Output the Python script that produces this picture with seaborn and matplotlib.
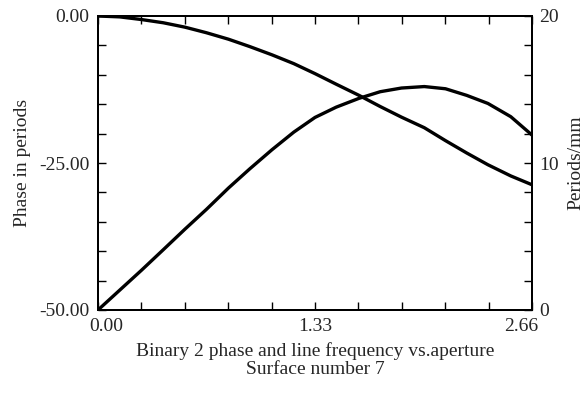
import numpy as np
import pandas as pd
import matplotlib
matplotlib.use('Agg')
import matplotlib.pyplot as plt
import matplotlib.transforms as mtrans
import seaborn as sns

# aperture (mm) at which the curves were read
aperture = [0.0, 0.133, 0.266, 0.4, 0.533, 0.665, 0.8, 0.93, 1.066, 1.2, 1.33,
            1.46, 1.6, 1.73, 1.86, 2.0, 2.13, 2.26, 2.39, 2.53, 2.66]
# phase in periods (left axis)
phase = [0.0, -0.15, -0.6, -1.15, -1.9, -2.85, -3.95, -5.2, -6.6, -8.1, -9.8,
         -11.6, -13.5, -15.4, -17.2, -19.0, -21.2, -23.3, -25.3, -27.2, -28.7]
# line frequency in periods/mm (right axis)
freq = [0.0, 1.35, 2.7, 4.1, 5.5, 6.85, 8.3, 9.6, 10.9, 12.1, 13.1,
        13.8, 14.4, 14.85, 15.1, 15.2, 15.05, 14.6, 14.05, 13.15, 11.9]

x_ticks = [0.0, 1.33, 2.66]
x_labels = ['0.00', '1.33', '2.66']
left_ticks = [-50, -25, 0]
left_labels = ['-50.00', '-25.00', '0.00']
right_ticks = [0, 10, 20]
right_labels = ['0', '10', '20']

df = pd.DataFrame({'aperture': aperture, 'phase': phase, 'freq': freq})

sns.set_style('white')
plt.rcParams['font.family'] = ['Liberation Serif', 'DejaVu Serif']
plt.rcParams['font.size'] = 14

fig = plt.figure(figsize=(5.84, 3.95), dpi=100)
ax = fig.add_axes([98 / 584, 1 - 310 / 395, 434 / 584, 294 / 395])
ax2 = ax.twinx()

sns.lineplot(data=df, x='aperture', y='phase', ax=ax, color='black', linewidth=2.4)
sns.lineplot(data=df, x='aperture', y='freq', ax=ax2, color='black', linewidth=2.4)

ax.set_xlim(0, 2.66)
ax.set_ylim(-50, 0)
ax2.set_ylim(0, 20)

ax.set_xticks(x_ticks)
ax.set_xticklabels(x_labels)
ax.set_xticks(np.arange(0, 2.67, 0.266), minor=True)
ax.set_yticks(left_ticks)
ax.set_yticklabels(left_labels)
ax.set_yticks(np.arange(-50, 1, 5), minor=True)
ax2.set_yticks(right_ticks)
ax2.set_yticklabels(right_labels)
ax2.set_yticks(np.arange(0, 21, 2), minor=True)

ax.tick_params(which='both', direction='in', length=6, width=1, color='black',
               top=True, bottom=True, left=True, right=False, pad=6)
ax2.tick_params(which='both', direction='in', length=6, width=1, color='black',
                left=False, right=True, pad=5)

# end labels of the x axis sit a little inward, as in the original
xl = ax.get_xticklabels()
xl[0].set_transform(xl[0].get_transform() + mtrans.ScaledTranslation(8 / 100, 0, fig.dpi_scale_trans))
xl[-1].set_transform(xl[-1].get_transform() + mtrans.ScaledTranslation(-11 / 100, 0, fig.dpi_scale_trans))

for a in (ax, ax2):
    for s in a.spines.values():
        s.set_color('black')
        s.set_linewidth(1.4)

ax.set_xlabel('Binary 2 phase and line frequency vs.aperture\nSurface number 7',
              labelpad=5, linespacing=1.1)
ax.set_ylabel('Phase in periods', labelpad=6)
ax2.set_ylabel('Periods/mm', labelpad=6)

fig.savefig('out.png', dpi=100)
